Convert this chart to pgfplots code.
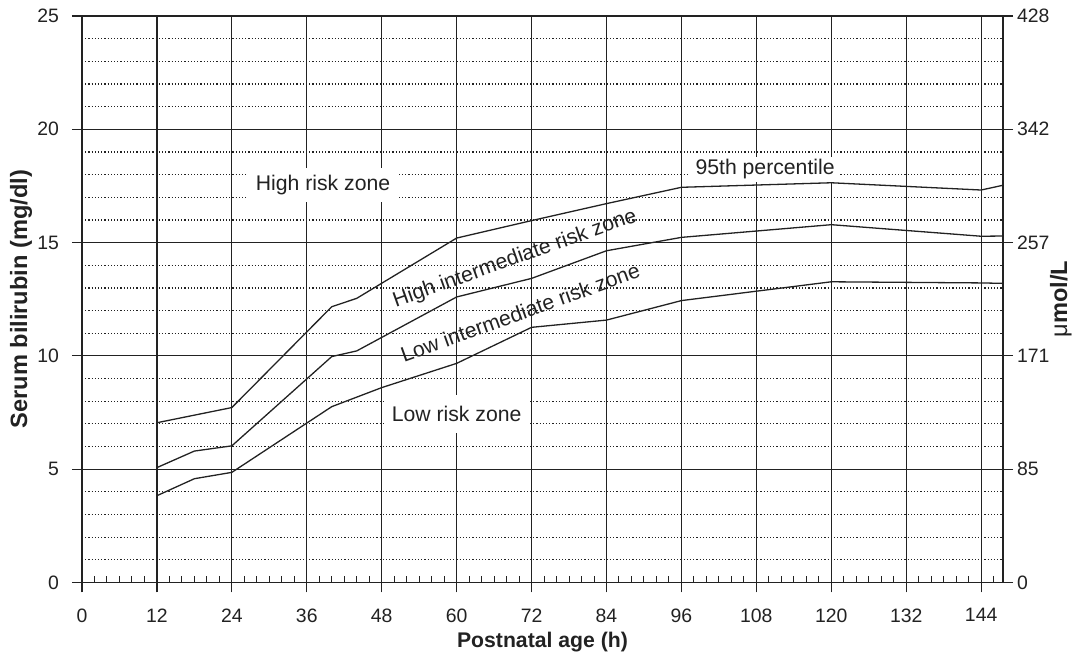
\documentclass[border=0pt]{standalone}
\usepackage{fontspec}
\setmainfont{Liberation Sans}
\usepackage{pgfplots}
\pgfplotsset{compat=1.18}
\definecolor{ink}{HTML}{222222}
\pgfplotsset{
  nomo/.style={scale only axis, width=460.5pt, height=283.25pt,
    xmin=0, xmax=147.5, ymin=0, ymax=25},
  /pgf/number format/assume math mode=true,
}
\newcommand\zonefont{\fontsize{10.6}{12}\selectfont}

\begin{document}
\begin{tikzpicture}
% grid, minor ticks, curves
\begin{axis}[nomo, name=A, clip=false,
  axis line style={ink, line width=0.6pt},
  tick pos=left, tick align=inside, major tick length=0pt, minor tick length=3pt,
  minor tick style={ink, line width=0.5pt},
  xtick={0,12,...,144}, ytick={0,5,...,25}, xticklabels={}, yticklabels={},
  minor xtick={2,4,...,146},
  extra y ticks={1,2,3,4,6,7,8,9,11,12,13,14,16,17,18,19,21,22,23,24},
  extra y tick labels={},
  extra y tick style={grid=major, major grid style={densely dotted, line width=0.6pt, ink}},
  grid=major, major grid style={ink, line width=0.6pt},
]
% 95th percentile
\addplot[ink, line width=0.65pt] coordinates {(12,7.05) (24,7.72) (40,12.17) (44,12.54) (60,15.2) (72,15.97) (84,16.72) (96,17.44) (120,17.64) (144,17.32) (147.5,17.53)};
% 75th percentile
\addplot[ink, line width=0.65pt] coordinates {(12,5.07) (18,5.8) (24,6.03) (40,9.97) (44,10.22) (60,12.6) (72,13.42) (84,14.64) (96,15.23) (120,15.79) (144,15.28) (147.5,15.29)};
% 40th percentile
\addplot[ink, line width=0.65pt] coordinates {(12,3.83) (18,4.58) (24,4.86) (40,7.76) (48,8.6) (60,9.67) (72,11.26) (84,11.58) (96,12.44) (120,13.27) (144,13.22) (147.5,13.2)};

\node[fill=white, inner xsep=4.4pt, inner ysep=3.6pt, font=\zonefont, text=ink] at (axis cs:38.6,17.54) {High risk zone};
\node[fill=white, inner xsep=3.5pt, inner ysep=5.6pt, font=\zonefont, text=ink] at (axis cs:60.0,7.44) {Low risk zone};
\node[fill=white, inner xsep=2.6pt, inner ysep=1.4pt, font=\zonefont, text=ink] at (axis cs:109.4,18.23) {95th percentile};
\node[rotate=19.6, anchor=base, font=\zonefont, text=ink] at (axis cs:69.66,14.05) {High intermediate risk zone};
\node[rotate=19.8, anchor=base, font=\zonefont, text=ink] at (axis cs:70.6,11.6) {Low intermediate risk zone};
\end{axis}
% outward ticks, labels bottom and left
\begin{axis}[nomo, axis line style={draw=none},
  tick pos=left, tick align=outside, major tick length=5pt,
  major tick style={ink, line width=0.6pt},
  xtick={0,12,...,144}, xticklabels={0,12,24,36,48,60,72,84,96,108,120,132,144},
  ytick={0,5,...,25}, yticklabels={0,5,10,15,20,25},
  ticklabel style={font=\fontsize{9.7}{11}\selectfont, text=ink},
  xticklabel style={yshift=-4.5pt}, yticklabel style={xshift=-3pt},
  xlabel={Postnatal age (h)}, ylabel={Serum bilirubin (mg/dl)},
  x label style={font=\fontsize{10.6}{12}\selectfont\bfseries, text=ink,
    at={(axis description cs:0.5,-0.1156)}, anchor=base},
  y label style={font=\fontsize{11.8}{13}\selectfont\bfseries, text=ink,
    at={(axis description cs:-0.0597,0.5)}, anchor=base},
]
\end{axis}
% right scale in umol/L
\begin{axis}[nomo, axis line style={draw=none},
  axis x line=none, axis y line*=right, tick align=outside, major tick length=5pt,
  major tick style={ink, line width=0.6pt},
  ytick={0,5,...,25}, yticklabels={0,85,171,257,342,428},
  ticklabel style={font=\fontsize{9.7}{11}\selectfont, text=ink},
  yticklabel style={xshift=-1.5pt},
  ylabel={μ\textbf{mol/L}},
  y label style={font=\fontsize{11.8}{13}\selectfont, text=ink,
    at={(axis description cs:1.0695,0.5)}, anchor=base},
]
\end{axis}
\path ([shift={(-41pt,-37.25pt)}]A.south west) rectangle ([shift={(40pt,8pt)}]A.north east);
\end{tikzpicture}
\end{document}
